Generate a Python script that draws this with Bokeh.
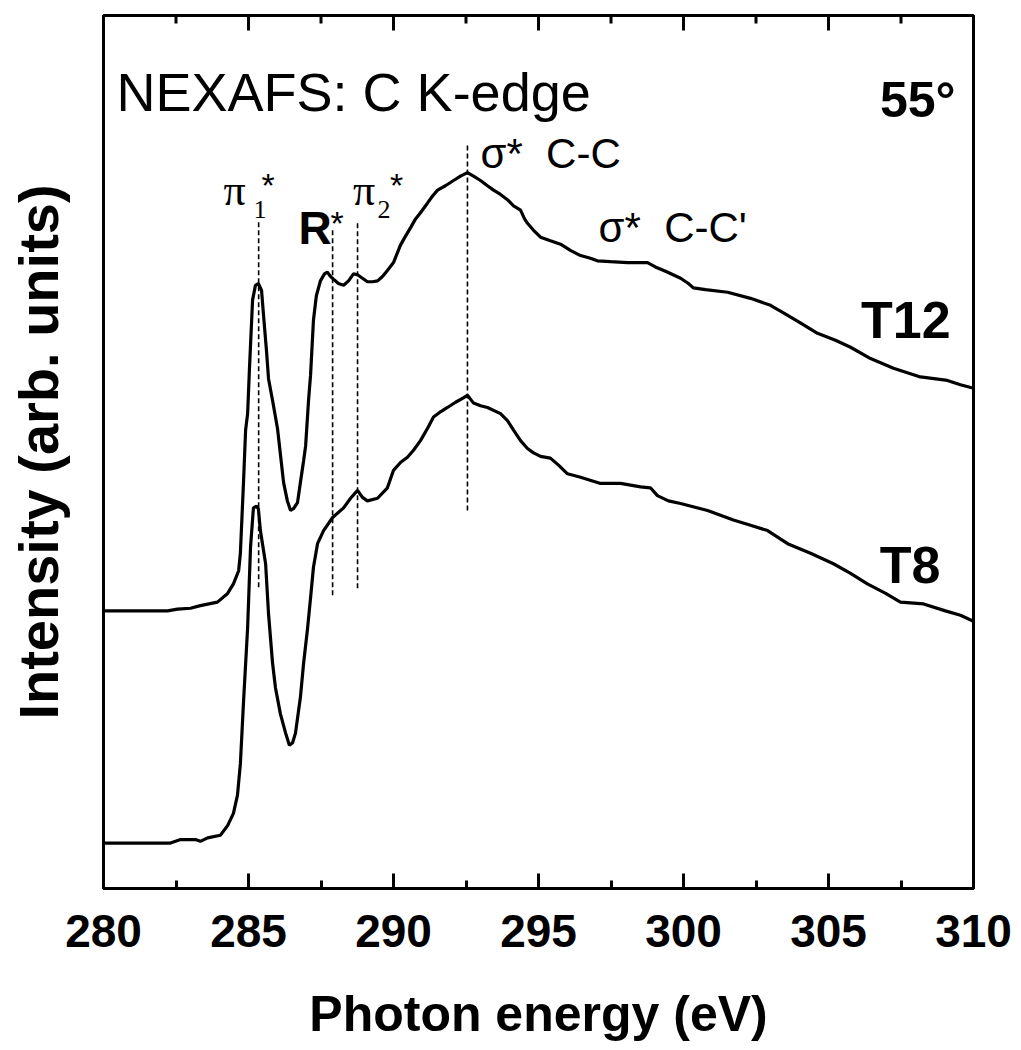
from bokeh.plotting import figure
from bokeh.models import LinearAxis, FixedTicker, Range1d, Label
from bokeh.embed import file_html
from bokeh.resources import INLINE

# ---- data: photon energy (eV) and intensity (arb. units) ----
t12_energy = [280.00, 280.93, 282.21, 282.55, 283.00, 283.34, 283.93, 284.28, 284.48, 284.66,
              284.72, 284.83, 284.90, 284.97, 285.03, 285.14, 285.24, 285.34, 285.45, 285.52,
              285.62, 285.69, 285.83, 286.00, 286.21, 286.34, 286.45, 286.55, 286.69, 286.79,
              286.90, 286.97, 287.07, 287.14, 287.24, 287.34, 287.48, 287.62, 287.72, 287.83,
              287.93, 288.10, 288.28, 288.45, 288.62, 288.76, 288.93, 289.10, 289.28, 289.45,
              289.62, 289.79, 290.00, 290.24, 290.41, 290.59, 290.76, 290.93, 291.17, 291.34,
              291.52, 291.79, 292.07, 292.31, 292.55, 292.76, 293.00, 293.24, 293.45, 293.69,
              293.93, 294.14, 294.38, 294.52, 294.62, 294.83, 295.07, 295.41, 295.76, 296.10,
              296.45, 296.79, 297.03, 297.48, 298.07, 298.76, 299.03, 299.38, 299.90, 300.17,
              300.34, 300.76, 301.52, 302.31, 303.00, 303.52, 304.03, 304.62, 305.24, 305.76,
              306.45, 307.24, 308.17, 309.10, 309.55, 310.00]
t12_intensity = [0.318, 0.318, 0.318, 0.320, 0.321, 0.324, 0.328, 0.338, 0.349, 0.364,
                 0.384, 0.467, 0.525, 0.544, 0.593, 0.674, 0.691, 0.693, 0.685, 0.656,
                 0.616, 0.584, 0.559, 0.527, 0.465, 0.444, 0.433, 0.435, 0.442, 0.465,
                 0.490, 0.507, 0.559, 0.588, 0.651, 0.679, 0.696, 0.704, 0.706, 0.701,
                 0.698, 0.693, 0.691, 0.696, 0.704, 0.703, 0.699, 0.695, 0.695, 0.696,
                 0.701, 0.708, 0.717, 0.737, 0.747, 0.757, 0.767, 0.774, 0.785, 0.793,
                 0.800, 0.805, 0.811, 0.816, 0.820, 0.816, 0.811, 0.805, 0.800, 0.795,
                 0.789, 0.782, 0.777, 0.767, 0.762, 0.754, 0.746, 0.742, 0.738, 0.731,
                 0.725, 0.722, 0.719, 0.718, 0.717, 0.717, 0.712, 0.707, 0.699, 0.693,
                 0.688, 0.686, 0.683, 0.676, 0.668, 0.658, 0.648, 0.636, 0.628, 0.620,
                 0.607, 0.596, 0.586, 0.582, 0.577, 0.573]

t8_energy = [280.00, 281.28, 282.31, 282.66, 283.17, 283.34, 283.59, 284.03, 284.28, 284.48,
             284.62, 284.72, 284.83, 284.97, 285.07, 285.17, 285.28, 285.34, 285.41, 285.59,
             285.69, 285.83, 285.93, 286.10, 286.28, 286.41, 286.52, 286.62, 286.79, 286.90,
             287.03, 287.14, 287.24, 287.38, 287.59, 287.90, 288.28, 288.52, 288.76, 288.93,
             289.10, 289.45, 289.79, 290.00, 290.24, 290.48, 290.69, 290.93, 291.17, 291.38,
             291.62, 291.86, 292.14, 292.41, 292.55, 292.76, 293.00, 293.24, 293.69, 293.93,
             294.14, 294.38, 294.62, 294.83, 295.07, 295.41, 295.69, 296.00, 296.45, 297.14,
             297.83, 298.52, 298.86, 299.10, 299.48, 299.90, 300.83, 301.72, 302.31, 302.90,
             303.59, 304.38, 305.17, 305.76, 306.34, 306.97, 307.48, 308.28, 309.03, 309.55,
             310.00]
t8_intensity = [0.052, 0.052, 0.052, 0.056, 0.056, 0.054, 0.058, 0.061, 0.072, 0.086,
                0.107, 0.143, 0.215, 0.299, 0.391, 0.436, 0.438, 0.435, 0.410, 0.372,
                0.315, 0.258, 0.230, 0.200, 0.178, 0.164, 0.167, 0.178, 0.219, 0.258,
                0.296, 0.333, 0.368, 0.395, 0.410, 0.425, 0.436, 0.447, 0.456, 0.448,
                0.444, 0.447, 0.459, 0.479, 0.488, 0.494, 0.502, 0.513, 0.527, 0.540,
                0.546, 0.551, 0.557, 0.562, 0.565, 0.556, 0.553, 0.551, 0.544, 0.536,
                0.525, 0.513, 0.504, 0.499, 0.495, 0.493, 0.485, 0.475, 0.471, 0.464,
                0.464, 0.460, 0.459, 0.450, 0.444, 0.441, 0.433, 0.422, 0.416, 0.410,
                0.395, 0.384, 0.372, 0.361, 0.349, 0.338, 0.328, 0.326, 0.318, 0.313,
                0.306]

# resonance markers (energy, vertical extent of dotted guide)
peak_names = ["pi1*", "R*", "pi2*", "sigma* C-C"]
peak_energy = [285.35, 287.90, 288.76, 292.55]
peak_top = [0.765, 0.754, 0.762, 0.851]
peak_bottom = [0.345, 0.336, 0.344, 0.433]

x_ticks = [280, 285, 290, 295, 300, 305, 310]
x_minor = [282.5, 287.5, 292.5, 297.5, 302.5, 307.5]

SANS = "Liberation Sans"
SERIF = "Liberation Serif"
TICK_COLOR = "black"

Y_TOP = 1.0
p = figure(width=1013, height=1045, x_range=Range1d(280, 310), y_range=Range1d(0, Y_TOP),
           output_backend="svg", toolbar_location=None, x_axis_location=None,
           y_axis_location=None,
           min_border_left=103, min_border_right=40, min_border_top=15, min_border_bottom=157)
p.xgrid.visible = False
p.ygrid.visible = False
p.outline_line_color = "black"
p.outline_line_width = 3
p.background_fill_color = "white"
p.border_fill_color = "white"

# bottom axis
xb = LinearAxis(ticker=FixedTicker(ticks=x_ticks, minor_ticks=x_minor))
xb.axis_label = "Photon energy (eV)"
xb.axis_label_text_font = SANS
xb.axis_label_text_font_style = "bold"
xb.axis_label_text_font_size = "50px"
xb.axis_label_text_color = "black"
xb.axis_label_standoff = 36
xb.major_label_text_font = SANS
xb.major_label_text_font_style = "bold"
xb.major_label_text_font_size = "46px"
xb.major_label_text_color = "black"
xb.major_label_standoff = 26
xb.axis_line_width = 3
xb.major_tick_in = 15
xb.major_tick_out = 0
xb.minor_tick_in = 8
xb.minor_tick_out = 0
xb.major_tick_line_width = 3
xb.minor_tick_line_width = 3
xb.major_tick_line_color = TICK_COLOR
xb.minor_tick_line_color = TICK_COLOR
p.add_layout(xb, "below")

# left axis: label only
yl = LinearAxis(ticker=FixedTicker(ticks=[]))
yl.axis_label = "Intensity (arb. units)"
yl.axis_label_text_font = SANS
yl.axis_label_text_font_style = "bold"
yl.axis_label_text_font_size = "56px"
yl.axis_label_text_color = "black"
yl.axis_label_standoff = 34
yl.major_label_standoff = 0
yl.major_tick_line_color = None
yl.minor_tick_line_color = None
yl.axis_line_width = 3
p.add_layout(yl, "left")

# top frame ticks (mirror of bottom ticks, pointing inward)
major_len = 15 / 873 * Y_TOP
minor_len = 8 / 873 * Y_TOP
p.segment(x0=x_ticks, y0=[Y_TOP] * len(x_ticks), x1=x_ticks,
          y1=[Y_TOP - major_len] * len(x_ticks), line_color=TICK_COLOR, line_width=3)
p.segment(x0=x_minor, y0=[Y_TOP] * len(x_minor), x1=x_minor,
          y1=[Y_TOP - minor_len] * len(x_minor), line_color=TICK_COLOR, line_width=3)

# dotted guides
p.segment(x0=peak_energy, y0=peak_bottom, x1=peak_energy, y1=peak_top,
          line_color="black", line_width=1.6, line_dash="5 3")

# spectra
p.line(t12_energy, t12_intensity, line_color="black", line_width=3.2)
p.line(t8_energy, t8_intensity, line_color="black", line_width=3.2)

def txt(x, y, s, size, font=SANS, style="normal", align="left"):
    p.add_layout(Label(x=x, y=y, text=s, text_font=font, text_font_size=size,
                       text_font_style=style, text_align=align,
                       text_baseline="alphabetic", text_color="black"))

NB = "\u00a0"
txt(280.45, 0.912, "NEXAFS: C K-edge", "54px")
txt(309.38, 0.903, "55°", "50px", style="bold", align="right")
txt(309.21, 0.651, "T12", "52px", style="bold", align="right")
txt(308.86, 0.370, "T8", "52px", style="bold", align="right")
txt(293.00, 0.842, "σ*" + NB + NB + "C-C", "42px")
txt(297.07, 0.757, "σ*" + NB + NB + "C-C'", "42px")

# pi1*
txt(284.14, 0.800, "π", "44px", font=SERIF)
txt(285.17, 0.778, "1", "26px", font=SERIF)
txt(285.45, 0.806, "*", "34px")
# R*
txt(286.72, 0.757, "R", "46px", style="bold")
txt(287.83, 0.762, "*", "34px")
# pi2*
txt(288.60, 0.800, "π", "44px", font=SERIF)
txt(289.45, 0.778, "2", "26px", font=SERIF)
txt(289.88, 0.806, "*", "34px")

open("out.html", "w").write(file_html(p, INLINE))
